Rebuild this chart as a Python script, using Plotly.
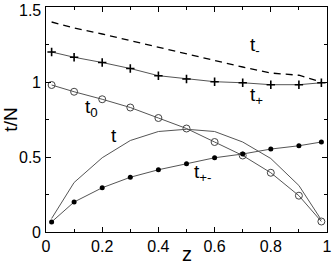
import plotly.graph_objects as go

z = [0.02, 0.1, 0.2, 0.3, 0.4, 0.5, 0.6, 0.7, 0.8, 0.9, 0.98]
t_minus = [1.40, 1.36, 1.32, 1.275, 1.23, 1.185, 1.14, 1.10, 1.06, 1.045, 1.00]
t_plus = [1.20, 1.165, 1.13, 1.09, 1.042, 1.02, 1.002, 0.995, 0.982, 0.982, 0.995]
t_zero = [0.98, 0.935, 0.885, 0.83, 0.76, 0.69, 0.60, 0.51, 0.395, 0.242, 0.07]
t_total = [0.09, 0.33, 0.495, 0.61, 0.67, 0.685, 0.67, 0.60, 0.49, 0.31, 0.08]
t_pm = [0.067, 0.20, 0.295, 0.365, 0.415, 0.455, 0.495, 0.52, 0.553, 0.575, 0.60]

x_ticks = [0, 0.2, 0.4, 0.6, 0.8, 1]
x_labels = ["0", "0.2", "0.4", "0.6", "0.8", "1"]
y_ticks = [0, 0.5, 1, 1.5]
y_labels = ["0", "0.5", "1", "1.5"]

FONT = "Liberation Sans, Arial"
line_col = "#555555"
fig = go.Figure()
fig.add_trace(go.Scatter(x=z, y=t_minus, mode="lines",
                         line=dict(color="black", width=1.3, dash="7px,5px")))
fig.add_trace(go.Scatter(x=z, y=t_plus, mode="lines+markers",
                         line=dict(color=line_col, width=1),
                         marker=dict(symbol="cross-thin", size=6, color="black",
                                     line=dict(color="black", width=1.6))))
fig.add_trace(go.Scatter(x=z, y=t_zero, mode="lines+markers",
                         line=dict(color=line_col, width=1),
                         marker=dict(symbol="circle-open", size=7, color="#444444",
                                     line=dict(width=1))))
fig.add_trace(go.Scatter(x=z, y=t_total, mode="lines",
                         line=dict(color=line_col, width=1)))
fig.add_trace(go.Scatter(x=z, y=t_pm, mode="lines+markers",
                         line=dict(color=line_col, width=1),
                         marker=dict(symbol="circle", size=5, color="black")))

lab_font = dict(family=FONT, size=19, color="black")
labels = [
    (0.72, 1.24, "t<sub>-</sub>"),
    (0.72, 0.905, "t<sub>+</sub>"),
    (0.13, 0.83, "t<sub>0</sub>"),
    (0.225, 0.645, "t"),
    (0.52, 0.395, "t<sub>+-</sub>"),
]
for x, y, txt in labels:
    fig.add_annotation(x=x, y=y, text=txt, showarrow=False, font=lab_font,
                       xanchor="left", yanchor="middle")

# y tick labels placed on the y scale
for v, s in zip(y_ticks, y_labels):
    top = v == y_ticks[-1]
    fig.add_annotation(x=0, xref="paper", y=v, yref="y", text=s, showarrow=False,
                       xanchor="right", yanchor=("top" if top else "middle"), xshift=-3,
                       yshift=(7 if top else 0),
                       font=dict(family=FONT, size=16, color="black"))

fig.add_annotation(x=0.5, xref="paper", y=0, yref="paper", text="z", showarrow=False,
                   xanchor="center", yanchor="middle", yshift=-22,
                   font=dict(family=FONT, size=20, color="black"))

axis_common = dict(showgrid=False, zeroline=False, showline=True, linecolor="black",
                   linewidth=1, ticks="inside", ticklen=5, tickcolor="black",
                   mirror="allticks", automargin=False,
                   tickfont=dict(family=FONT, size=16, color="black"))
fig.update_xaxes(range=[0, 1], tickvals=x_ticks, ticktext=x_labels,
                 minor=dict(ticks="inside", dtick=0.1, ticklen=3, tickcolor="black"),
                 **axis_common)
fig.update_yaxes(range=[0, 1.5], tickvals=y_ticks, showticklabels=False,
                 minor=dict(ticks="inside", dtick=0.25, ticklen=3, tickcolor="black"),
                 title=dict(text="t/N", font=dict(family=FONT, size=19, color="black"),
                            standoff=24),
                 **axis_common)
fig.update_layout(width=332, height=264, showlegend=False,
                  margin=dict(l=46, r=5, t=7, b=32),
                  plot_bgcolor="white", paper_bgcolor="white")
fig.write_html("out.html", config={"displayModeBar": False},
               post_script="document.body.style.margin='0';document.body.style.overflow='hidden';")
